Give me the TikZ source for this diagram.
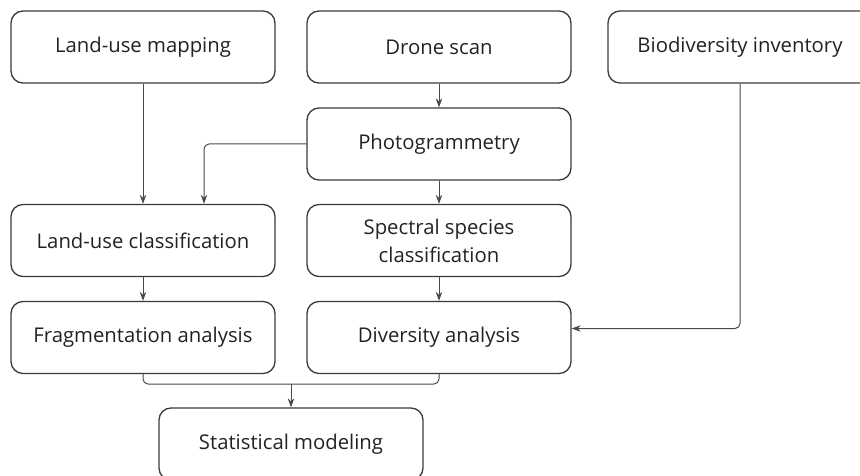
\documentclass[tikz,border=0pt]{standalone}
\usepackage{fontspec}
\setmainfont{Open Sans}
\usetikzlibrary{arrows.meta}
\definecolor{boxline}{HTML}{3A3A3A}
\definecolor{linkline}{HTML}{4A4A4A}
\definecolor{txt}{HTML}{222222}
\begin{document}
\begin{tikzpicture}[x=1pt,y=-1pt,
  stage/.style={draw=boxline, line width=1.3pt, rounded corners=12pt,
    minimum width=264pt, minimum height=72pt, align=center,
    text=txt, font=\fontsize{20.3}{28}\selectfont, inner sep=0pt},
  link/.style={draw=linkline, line width=1pt, rounded corners=5pt,
    -{Stealth[length=9pt,width=6.5pt]}},
  plain/.style={draw=linkline, line width=1pt, rounded corners=5pt}]
\clip (0,0) rectangle (860,476);
\useasboundingbox (0,0) rectangle (860,476);

% stages of the workflow
\node[stage] (lum) at (143,47) {Land-use mapping};
\node[stage] (drone) at (439,47) {Drone scan};
\node[stage] (bio) at (740,47) {Biodiversity inventory};
\node[stage] (photo) at (439,144) {Photogrammetry};
\node[stage] (luc) at (143,240.5) {Land-use classification};
\node[stage] (ssc) at (439,240.5) {Spectral species\\classification};
\node[stage] (frag) at (143,337.5) {Fragmentation analysis};
\node[stage] (div) at (439,337.5) {Diversity analysis};
\node[stage] (stat) at (291,444) {Statistical modeling};

% straight links
\draw[link] (lum) -- (luc);
\draw[link] (drone) -- (photo);
\draw[link] (photo) -- (ssc);
\draw[link] (luc) -- (frag);
\draw[link] (ssc) -- (div);

% photogrammetry also feeds land-use classification
\draw[link] (photo.west) -| ([xshift=61pt]luc.north);

% inventory joins the diversity analysis from the right
\draw[link] (bio.south) |- ([yshift=9pt]div.east);

% both analyses merge into statistical modeling
\coordinate (merge) at (291,384);
\draw[plain] (frag.south) |- (merge) -| (div.south);
\draw[link] (merge) -- (stat.north);
\end{tikzpicture}
\end{document}
